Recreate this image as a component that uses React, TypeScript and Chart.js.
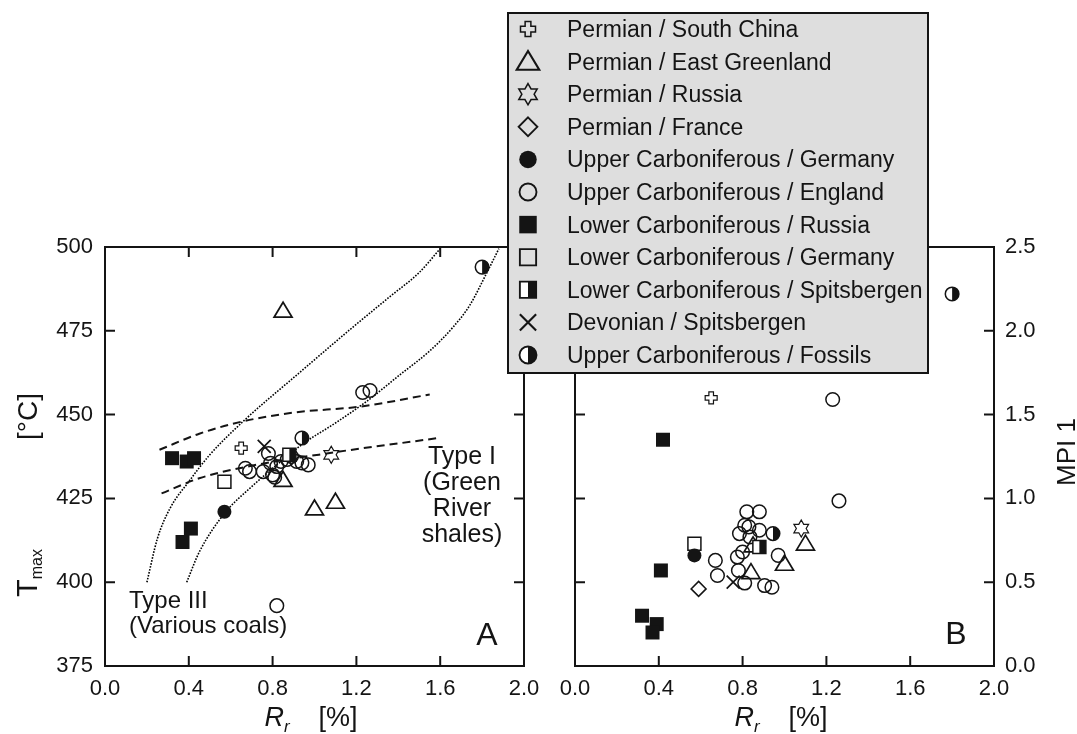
import React, { useEffect, useRef } from 'react';
import { Chart, registerables } from 'chart.js';

Chart.register(...registerables);

const FONT = '"Liberation Sans", Arial, Helvetica, sans-serif';
const INK = '#141414';

// ---------- legend / series ----------
const legendLabels = [
  'Permian / South China',
  'Permian / East Greenland',
  'Permian / Russia',
  'Permian / France',
  'Upper Carboniferous / Germany',
  'Upper Carboniferous / England',
  'Lower Carboniferous / Russia',
  'Lower Carboniferous / Germany',
  'Lower Carboniferous / Spitsbergen',
  'Devonian / Spitsbergen',
  'Upper Carboniferous / Fossils',
];
const markerKinds = ['plus', 'triangle', 'star', 'diamond', 'dot', 'circle', 'squareFilled', 'square', 'squareHalf', 'cross', 'circleHalf'];

// ---------- ticks ----------
const rrTicks = [0.0, 0.4, 0.8, 1.2, 1.6, 2.0];
const tmaxTicks = [375, 400, 425, 450, 475, 500];
const mpiTicks = [0.0, 0.5, 1.0, 1.5, 2.0, 2.5];

// ---------- Panel A : [Rr %, Tmax °C] ----------
const southChinaA = [[0.65, 440]];
const eastGreenlandA = [[0.85, 481], [0.85, 430.5], [1.0, 422], [1.1, 424]];
const russiaPermA = [[1.08, 438]];
const franceA: number[][] = [];
const germanyUpperA = [[0.57, 421]];
const englandA = [
  [0.67, 434], [0.69, 433], [0.755, 433], [0.78, 438.4], [0.79, 435.5], [0.80, 432],
  [0.81, 431.3], [0.82, 434.5], [0.84, 436], [0.87, 436.6], [0.89, 437.5], [0.915, 436],
  [0.94, 435.6], [0.97, 435], [0.82, 393], [1.23, 456.6], [1.265, 457.2],
];
const russiaLowerA = [[0.32, 437], [0.39, 436], [0.425, 437], [0.41, 416], [0.37, 412]];
const germanyLowerA = [[0.57, 430]];
const spitsbergenLowerA = [[0.88, 438]];
const devonianA = [[0.76, 440.5]];
const fossilsA = [[1.8, 494], [0.94, 443]];

// ---------- Panel B : [Rr %, MPI 1] ----------
const southChinaB = [[0.65, 1.6]];
const eastGreenlandB = [[0.85, 0.72], [0.84, 0.56], [1.0, 0.61], [1.1, 0.73]];
const russiaPermB = [[1.08, 0.82]];
const franceB = [[0.59, 0.46]];
const germanyUpperB = [[0.57, 0.66]];
const englandB = [
  [0.82, 0.92], [0.88, 0.92], [0.81, 0.84], [0.83, 0.83], [0.88, 0.81], [0.785, 0.79],
  [0.835, 0.77], [0.97, 0.66], [0.67, 0.63], [0.775, 0.65], [0.8, 0.68], [0.68, 0.54],
  [0.78, 0.57], [0.81, 0.495], [0.905, 0.48], [0.94, 0.47], [1.23, 1.59], [1.26, 0.985],
];
const russiaLowerB = [[0.42, 1.35], [0.41, 0.57], [0.32, 0.3], [0.39, 0.25], [0.37, 0.2]];
const germanyLowerB = [[0.57, 0.73]];
const spitsbergenLowerB = [[0.88, 0.71]];
const devonianB = [[0.755, 0.5]];
const fossilsB = [[1.8, 2.22], [0.945, 0.79]];

// ---------- trend curves (panel A) ----------
const typeIIIUpperCurve = [
  [0.2, 400], [0.25, 413], [0.31, 422], [0.4, 430], [0.5, 438], [0.66, 448], [0.93, 462.6],
  [1.17, 475.4], [1.36, 485.2], [1.5, 492.4], [1.6, 499.5],
];
const typeIIILowerCurve = [
  [0.39, 400], [0.45, 409], [0.57, 420.5], [0.7, 428.5], [0.82, 435], [0.95, 441.5], [1.1, 447.5],
  [1.25, 454], [1.41, 462], [1.55, 469], [1.66, 476], [1.74, 482.5], [1.82, 492], [1.88, 499.5],
];
const typeIUpperCurve = [[0.26, 439.5], [0.45, 444.3], [0.66, 448], [0.9, 450.6], [1.22, 452.4], [1.55, 456]];
const typeILowerCurve = [[0.27, 426.5], [0.45, 431], [0.68, 434.5], [1.09, 438.7], [1.59, 443]];

const seriesA = [southChinaA, eastGreenlandA, russiaPermA, franceA, germanyUpperA, englandA, russiaLowerA, germanyLowerA, spitsbergenLowerA, devonianA, fossilsA];
const seriesB = [southChinaB, eastGreenlandB, russiaPermB, franceB, germanyUpperB, englandB, russiaLowerB, germanyLowerB, spitsbergenLowerB, devonianB, fossilsB];

// ---------- markers ----------
function drawMarker(g: CanvasRenderingContext2D, kind: string, x: number, y: number, s = 1) {
  g.save();
  g.translate(x, y);
  g.scale(s, s);
  g.strokeStyle = INK;
  g.fillStyle = INK;
  g.lineWidth = 1.5;
  g.beginPath();
  switch (kind) {
    case 'circle':
      g.arc(0, 0, 6.8, 0, Math.PI * 2);
      g.stroke();
      break;
    case 'dot':
      g.arc(0, 0, 7, 0, Math.PI * 2);
      g.fill();
      break;
    case 'circleHalf':
      g.arc(0, 0, 6.8, 0, Math.PI * 2);
      g.fillStyle = '#fff';
      g.fill();
      g.beginPath();
      g.arc(0, 0, 6.8, -Math.PI / 2, Math.PI / 2);
      g.closePath();
      g.fillStyle = INK;
      g.fill();
      g.beginPath();
      g.arc(0, 0, 6.8, 0, Math.PI * 2);
      g.stroke();
      break;
    case 'square':
      g.rect(-6.5, -6.5, 13, 13);
      g.stroke();
      break;
    case 'squareFilled':
      g.rect(-7, -7, 14, 14);
      g.fill();
      break;
    case 'squareHalf':
      g.fillStyle = '#fff';
      g.fillRect(-6.5, -6.5, 13, 13);
      g.fillStyle = INK;
      g.fillRect(0, -6.5, 6.5, 13);
      g.rect(-6.5, -6.5, 13, 13);
      g.stroke();
      break;
    case 'triangle':
      g.lineWidth = 1.7;
      g.moveTo(0, -8.5);
      g.lineTo(9, 6.5);
      g.lineTo(-9, 6.5);
      g.closePath();
      g.stroke();
      break;
    case 'diamond':
      g.moveTo(0, -7.5);
      g.lineTo(7.5, 0);
      g.lineTo(0, 7.5);
      g.lineTo(-7.5, 0);
      g.closePath();
      g.stroke();
      break;
    case 'cross':
      g.lineWidth = 1.7;
      g.moveTo(-6.5, -6.5);
      g.lineTo(6.5, 6.5);
      g.moveTo(6.5, -6.5);
      g.lineTo(-6.5, 6.5);
      g.stroke();
      break;
    case 'plus': {
      const a = 2.3, L = 6;
      const pts = [[-a, -L], [a, -L], [a, -a], [L, -a], [L, a], [a, a], [a, L], [-a, L], [-a, a], [-L, a], [-L, -a], [-a, -a]];
      pts.forEach(([px, py], i) => (i ? g.lineTo(px, py) : g.moveTo(px, py)));
      g.closePath();
      g.lineWidth = 1.2;
      g.stroke();
      break;
    }
    case 'star': {
      const R = 8.5, r = R / Math.sqrt(3);
      for (let k = 0; k < 12; k++) {
        const ang = -Math.PI / 2 + (k * Math.PI) / 6;
        const rad = k % 2 === 0 ? R : r;
        const px = rad * Math.cos(ang), py = rad * Math.sin(ang);
        if (k) g.lineTo(px, py);
        else g.moveTo(px, py);
      }
      g.closePath();
      g.lineWidth = 1.2;
      g.stroke();
      break;
    }
  }
  g.restore();
}

// ---------- helpers ----------
type Part = { t: string; font: string; dy?: number; x?: number };
function drawParts(ctx: CanvasRenderingContext2D, parts: Part[], x: number, y: number) {
  let cx = x;
  parts.forEach((p) => {
    ctx.font = p.font;
    const px = p.x !== undefined ? x + p.x : cx;
    ctx.fillText(p.t, px, y + (p.dy || 0));
    cx = px + ctx.measureText(p.t).width;
  });
}

function frameAndTicks(yId: string, xt: number[], yt: number[]) {
  return {
    id: 'frameTicks',
    afterDatasetsDraw(chart: any) {
      const { ctx, chartArea: a } = chart;
      // markers at the element positions computed by the chart's scales
      chart.data.datasets.forEach((ds: any, i: number) => {
        if (!ds.markerKind) return;
        const meta = chart.getDatasetMeta(i);
        meta.data.forEach((el: any) => drawMarker(ctx, ds.markerKind, el.x, el.y));
      });
      const xs = chart.scales.x;
      const ys = chart.scales[yId];
      ctx.save();
      ctx.strokeStyle = INK;
      ctx.lineWidth = 2;
      ctx.strokeRect(a.left, a.top, a.right - a.left, a.bottom - a.top);
      ctx.beginPath();
      xt.slice(1, -1).forEach((v) => {
        const p = xs.getPixelForValue(v);
        ctx.moveTo(p, a.top);
        ctx.lineTo(p, a.top + 10);
        ctx.moveTo(p, a.bottom);
        ctx.lineTo(p, a.bottom - 10);
      });
      yt.slice(1, -1).forEach((v) => {
        const p = ys.getPixelForValue(v);
        ctx.moveTo(a.left, p);
        ctx.lineTo(a.left + 10, p);
        ctx.moveTo(a.right, p);
        ctx.lineTo(a.right - 10, p);
      });
      ctx.stroke();
      ctx.restore();
    },
  };
}

function xTitle(ctx: CanvasRenderingContext2D, center: number) {
  ctx.fillStyle = INK;
  ctx.textAlign = 'left';
  ctx.textBaseline = 'alphabetic';
  drawParts(ctx, [
    { t: 'R', font: `italic 27px ${FONT}` },
    { t: 'r', font: `italic 17px ${FONT}`, dy: 6 },
    { t: '[%]', font: `27px ${FONT}`, x: 54 },
  ], center - 50, 726);
}

function scatterSets(groups: number[][][]) {
  return groups.map((pts, i) => ({
    label: legendLabels[i],
    markerKind: markerKinds[i],
    data: pts.map(([x, y]) => ({ x, y })),
    pointRadius: 0,
    showLine: false,
  }));
}

function curveSet(label: string, pts: number[][], dash: number[], width: number, color: string) {
  return {
    label,
    data: pts.map(([x, y]) => ({ x, y })),
    showLine: true,
    pointRadius: 0,
    borderColor: color,
    borderWidth: width,
    borderDash: dash,
    cubicInterpolationMode: 'monotone',
    fill: false,
  };
}

const tickFont = { family: FONT, size: 22 };

export default function App() {
  const refA = useRef<HTMLCanvasElement>(null);
  const refB = useRef<HTMLCanvasElement>(null);

  useEffect(() => {
    const xScale = {
      type: 'linear',
      position: 'bottom',
      min: rrTicks[0],
      max: rrTicks[rrTicks.length - 1],
      afterBuildTicks: (s: any) => {
        s.ticks = rrTicks.map((v) => ({ value: v }));
      },
      afterFit: (s: any) => {
        s.height = 68;
      },
      grid: { display: false, drawTicks: false },
      border: { display: false },
      ticks: { padding: 10, color: INK, font: tickFont, autoSkip: false, maxRotation: 0, callback: (v: any) => Number(v).toFixed(1) },
    };

    const textA = {
      id: 'textA',
      afterDraw(chart: any) {
        const ctx = chart.ctx as CanvasRenderingContext2D;
        const a = chart.chartArea;
        ctx.save();
        ctx.fillStyle = INK;
        ctx.font = `25px ${FONT}`;
        ctx.textAlign = 'center';
        ctx.textBaseline = 'alphabetic';
        ['Type I', '(Green', 'River', 'shales)'].forEach((t, i) => ctx.fillText(t, 462, 464 + i * 26));
        ctx.textAlign = 'left';
        ctx.font = `24px ${FONT}`;
        ctx.fillText('Type III', 129, 608);
        ctx.fillText('(Various coals)', 129, 633);
        ctx.font = `32px ${FONT}`;
        ctx.textAlign = 'center';
        ctx.fillText('A', 487, 645);
        xTitle(ctx, (a.left + a.right) / 2);
        ctx.translate(37, 597);
        ctx.rotate(-Math.PI / 2);
        ctx.textAlign = 'left';
        drawParts(ctx, [
          { t: 'T', font: `29px ${FONT}` },
          { t: 'max', font: `16px ${FONT}`, dy: 5 },
          { t: '[°C]', font: `28px ${FONT}`, x: 157 },
        ], 0, 0);
        ctx.restore();
      },
    };

    const chartA = new Chart(refA.current!, {
      type: 'scatter',
      data: {
        datasets: [
          ...scatterSets(seriesA),
          curveSet('Type I upper', typeIUpperCurve, [8, 5], 2, INK),
          curveSet('Type I lower', typeILowerCurve, [8, 5], 2, INK),
          curveSet('Type III upper', typeIIIUpperCurve, [1.6, 1.4], 1.6, '#000'),
          curveSet('Type III lower', typeIIILowerCurve, [1.6, 1.4], 1.6, '#000'),
        ] as any,
      },
      options: {
        animation: false,
        responsive: false,
        events: [],
        layout: { padding: { left: 0, top: 247, right: 36, bottom: 0 } },
        plugins: { legend: { display: false }, tooltip: { enabled: false } },
        scales: {
          x: xScale as any,
          y: {
            type: 'linear',
            position: 'left',
            min: tmaxTicks[0],
            max: tmaxTicks[tmaxTicks.length - 1],
            afterBuildTicks: (s: any) => {
              s.ticks = tmaxTicks.map((v) => ({ value: v }));
            },
            afterFit: (s: any) => {
              s.width = 105;
            },
            grid: { display: false, drawTicks: false },
            border: { display: false },
            ticks: { padding: 12, color: INK, font: tickFont, autoSkip: false },
          } as any,
        },
      },
      plugins: [frameAndTicks('y', rrTicks, tmaxTicks), textA],
    });

    const textB = {
      id: 'textB',
      afterDraw(chart: any) {
        const ctx = chart.ctx as CanvasRenderingContext2D;
        const a = chart.chartArea;
        ctx.save();
        ctx.fillStyle = INK;
        ctx.font = `32px ${FONT}`;
        ctx.textAlign = 'center';
        ctx.textBaseline = 'alphabetic';
        ctx.fillText('B', 456, 644);
        xTitle(ctx, (a.left + a.right) / 2);
        ctx.save();
        ctx.translate(575, 452);
        ctx.rotate(-Math.PI / 2);
        ctx.font = `26px ${FONT}`;
        ctx.textAlign = 'center';
        ctx.fillText('MPI 1', 0, 0);
        ctx.restore();
        // legend box
        ctx.fillStyle = '#dedede';
        ctx.fillRect(8, 13, 420, 360);
        ctx.strokeStyle = INK;
        ctx.lineWidth = 2;
        ctx.strokeRect(8, 13, 420, 360);
        ctx.textAlign = 'left';
        legendLabels.forEach((lab, i) => {
          const base = 37 + i * 32.6;
          drawMarker(ctx, markerKinds[i], 28, base - 8, 1.25);
          ctx.fillStyle = INK;
          ctx.font = `23px ${FONT}`;
          ctx.fillText(lab, 67, base);
        });
        ctx.restore();
      },
    };

    const chartB = new Chart(refB.current!, {
      type: 'scatter',
      data: { datasets: scatterSets(seriesB) as any },
      options: {
        animation: false,
        responsive: false,
        events: [],
        layout: { padding: { left: 75, top: 247, right: 0, bottom: 0 } },
        plugins: { legend: { display: false }, tooltip: { enabled: false } },
        scales: {
          x: xScale as any,
          y: {
            type: 'linear',
            position: 'right',
            min: mpiTicks[0],
            max: mpiTicks[mpiTicks.length - 1],
            afterBuildTicks: (s: any) => {
              s.ticks = mpiTicks.map((v) => ({ value: v }));
            },
            afterFit: (s: any) => {
              s.width = 83;
            },
            grid: { display: false, drawTicks: false },
            border: { display: false },
            ticks: { padding: 11, color: INK, font: tickFont, autoSkip: false, callback: (v: any) => Number(v).toFixed(1) },
          } as any,
        },
      },
      plugins: [frameAndTicks('y', rrTicks, mpiTicks), textB],
    });

    return () => {
      chartA.destroy();
      chartB.destroy();
    };
  }, []);

  return (
    <div style={{ position: 'absolute', left: 0, top: 0, width: 1077, height: 734, background: '#fff', overflow: 'hidden' }}>
      <canvas ref={refA} width={560} height={734} style={{ position: 'absolute', left: 0, top: 0, width: 560, height: 734 }} />
      <canvas ref={refB} width={577} height={734} style={{ position: 'absolute', left: 500, top: 0, width: 577, height: 734 }} />
    </div>
  );
}
